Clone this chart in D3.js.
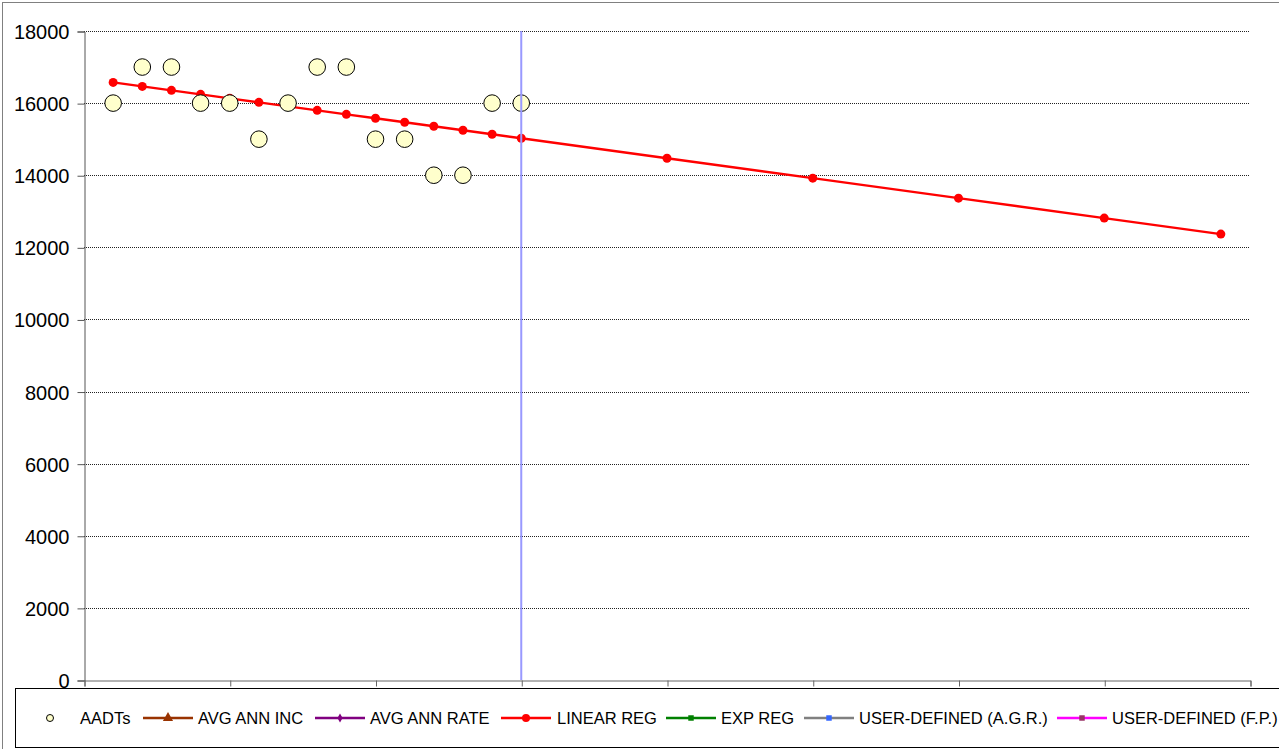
<!DOCTYPE html>
<html>
<head>
<meta charset="utf-8">
<script src="https://cdn.jsdelivr.net/npm/d3@7"></script>
<style>
	body { margin: 0; background: #fff; }
	svg { display: block; font-family: 'Liberation Sans', Arial, sans-serif; }
</style>
</head>
<body>
<svg id="chart"></svg>
<script>
const width = 1279, height = 749;

// years since start of count period
const aadtYears = [1, 2, 3, 4, 5, 6, 7, 8, 9, 10, 11, 12, 13, 14, 15];
const aadtValues = [16000, 17000, 17000, 16000, 16000, 15000, 16000, 17000, 17000, 15000, 15000, 14000, 14000, 16000, 16000];

const regYears = [1, 2, 3, 4, 5, 6, 7, 8, 9, 10, 11, 12, 13, 14, 15, 20, 25, 30, 35, 39];
const regValues = [16575, 16464, 16354, 16243, 16132, 16021, 15911, 15800, 15689, 15579, 15468, 15357, 15246, 15136, 15025, 14471, 13918, 13364, 12811, 12368];

const currentYear = 15;
const xTicks = [0, 5, 10, 15, 20, 25, 30, 35, 40];
const yTicks = [0, 2000, 4000, 6000, 8000, 10000, 12000, 14000, 16000, 18000];

const legendItems = [
	{ name: 'AADTs', line: null, marker: 'circle', fill: '#ffffcc' },
	{ name: 'AVG ANN INC', line: '#993300', marker: 'triangle', fill: '#993300' },
	{ name: 'AVG ANN RATE', line: '#800080', marker: 'diamond', fill: '#800080' },
	{ name: 'LINEAR REG', line: '#ff0000', marker: 'dot', fill: '#ff0000' },
	{ name: 'EXP REG', line: '#008000', marker: 'square', fill: '#008000' },
	{ name: 'USER-DEFINED (A.G.R.)', line: '#808080', marker: 'square', fill: '#3366ff' },
	{ name: 'USER-DEFINED (F.P.)', line: '#ff00ff', marker: 'square', fill: '#993366' }
];

const svg = d3.select('#chart').attr('width', width).attr('height', height);

// outer chart frame
svg.append('rect')
	.attr('x', 2.5).attr('y', 2.5)
	.attr('width', width + 10).attr('height', height + 10)
	.attr('fill', '#fff')
	.attr('stroke', '#808080');

const x = d3.scaleLinear().domain([0, 40]).range([84, 1250]);
const y = d3.scaleLinear().domain([0, 18000]).range([680, 31]);

// gridlines
svg.append('g')
	.selectAll('line')
	.data(yTicks.filter(d => d > 0))
	.enter()
	.append('line')
	.attr('x1', x(0)).attr('x2', x(40))
	.attr('y1', d => Math.round(y(d)) + 0.5)
	.attr('y2', d => Math.round(y(d)) + 0.5)
	.attr('stroke', '#222')
	.attr('stroke-width', 1)
	.attr('stroke-dasharray', '1,1');

const yAxis = svg.append('g')
	.attr('transform', `translate(${x(0) + 0.5},0.5)`)
	.call(d3.axisLeft(y).tickValues(yTicks).tickSize(7).tickPadding(8).tickFormat(d3.format('d')));
yAxis.selectAll('text').attr('font-size', 20).attr('fill', '#000').attr('font-family', 'Liberation Sans, Arial').attr('dy', '0.35em');
yAxis.selectAll('line, path').attr('stroke', '#555');

const xAxis = svg.append('g')
	.attr('transform', `translate(0.5,${y(0) + 0.5})`)
	.call(d3.axisBottom(x).tickValues(xTicks).tickSize(6).tickSizeOuter(6).tickFormat(''));
xAxis.selectAll('line, path').attr('stroke', '#666');

// linear regression
const regLine = d3.line().x((d, i) => x(regYears[i])).y(d => y(d));
svg.append('path')
	.datum(regValues)
	.attr('d', regLine)
	.attr('fill', 'none')
	.attr('stroke', '#ff0000')
	.attr('stroke-width', 2.4);
svg.append('g')
	.selectAll('circle')
	.data(regValues)
	.enter()
	.append('circle')
	.attr('cx', (d, i) => x(regYears[i]))
	.attr('cy', d => y(d))
	.attr('r', 4.5)
	.attr('fill', '#ff0000');

// AADTs
svg.append('g')
	.selectAll('circle')
	.data(aadtValues)
	.enter()
	.append('circle')
	.attr('cx', (d, i) => x(aadtYears[i]))
	.attr('cy', d => y(d))
	.attr('r', 8.3)
	.attr('fill', '#ffffcc')
	.attr('stroke', '#000')
	.attr('stroke-width', 1);

// current year marker
svg.append('line')
	.attr('x1', x(currentYear)).attr('x2', x(currentYear))
	.attr('y1', y(18000)).attr('y2', y(0))
	.attr('stroke', '#9999ff')
	.attr('stroke-width', 2);

// legend
const legend = svg.append('g');
legend.append('rect')
	.attr('x', 15.5).attr('y', 688.5)
	.attr('width', 1300).attr('height', 59)
	.attr('fill', '#fff')
	.attr('stroke', '#000');

const legendY = 718;
const legendPos = [
	{ lx: 34, tx: 80 },
	{ lx: 143, tx: 198 },
	{ lx: 315, tx: 370 },
	{ lx: 501, tx: 557 },
	{ lx: 666, tx: 721 },
	{ lx: 804, tx: 859 },
	{ lx: 1057, tx: 1112 }
];
legendItems.forEach((item, i) => {
	const p = legendPos[i];
	const g = legend.append('g');
	let cx = p.lx + 25;
	if (item.line) {
		g.append('line')
			.attr('x1', p.lx).attr('x2', p.lx + 50)
			.attr('y1', legendY).attr('y2', legendY)
			.attr('stroke', item.line).attr('stroke-width', 2.5);
	} else {
		cx = 50;
	}
	if (item.marker === 'circle') {
		g.append('circle').attr('cx', cx).attr('cy', legendY).attr('r', 3.5)
			.attr('fill', item.fill).attr('stroke', '#000').attr('stroke-width', 1);
	} else if (item.marker === 'dot') {
		g.append('circle').attr('cx', cx).attr('cy', legendY).attr('r', 4).attr('fill', item.fill);
	} else {
		const type = item.marker === 'triangle' ? d3.symbolTriangle : item.marker === 'diamond' ? d3.symbolDiamond : d3.symbolSquare;
		const size = item.marker === 'triangle' ? 45 : item.marker === 'diamond' ? 24 : 30;
		g.append('path').attr('d', d3.symbol().type(type).size(size)())
			.attr('transform', `translate(${cx},${legendY})`)
			.attr('fill', item.fill);
	}
	g.append('text')
		.attr('x', p.tx).attr('y', legendY + 6)
		.attr('font-size', 16.5)
		.attr('fill', '#000')
		.text(item.name);
});
</script>
</body>
</html>
